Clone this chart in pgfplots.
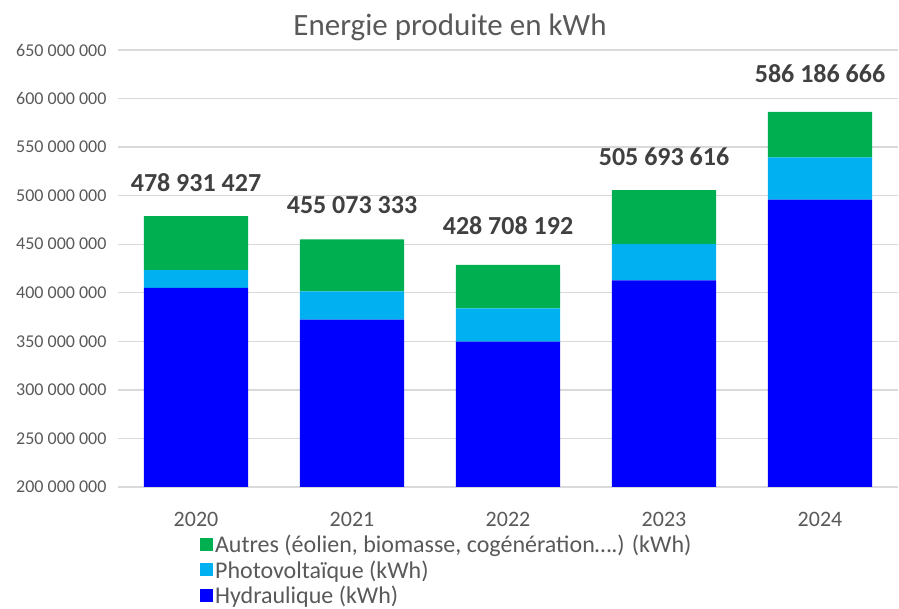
\documentclass[border=0pt]{standalone}
\usepackage{pgfplots}
\pgfplotsset{compat=1.18}
\usepackage{fontspec}
\setmainfont{Carlito}
\definecolor{cgreen}{HTML}{00B050}
\definecolor{ccyan}{HTML}{00B0F0}
\definecolor{cblue}{HTML}{0000FF}
\definecolor{ctext}{HTML}{595959}
\definecolor{clabel}{HTML}{404040}
\definecolor{cgrid}{HTML}{D9D9D9}
\begin{document}
\begin{tikzpicture}
\useasboundingbox (0,0) rectangle (899pt,609pt);
\begin{axis}[
  at={(118pt,122pt)}, anchor=south west,
  scale only axis, width=780pt, height=437pt,
  ybar stacked, bar width=0.667,
  xmin=-0.5, xmax=4.5, ymin=200, ymax=650,
  xtick={0,1,2,3,4}, xticklabels={2020,2021,2022,2023,2024},
  ytick={200,250,300,350,400,450,500,550,600,650},
  yticklabels={200 000 000,250 000 000,300 000 000,350 000 000,400 000 000,450 000 000,500 000 000,550 000 000,600 000 000,650 000 000},
  axis line style={draw=none},
  major tick length=0pt,
  ymajorgrids, grid style={cgrid, line width=1.3pt},
  yticklabel style={font=\fontsize{18}{20}\selectfont, text=ctext, anchor=east, xshift=-8pt},
  xticklabel style={font=\fontsize{22}{24}\selectfont, text=ctext, anchor=north, yshift=-22pt},
  reverse legend,
  legend style={at={(0.105,-0.105)}, anchor=north west, draw=none, fill=none,
    font=\fontsize{24}{26}\selectfont, text=ctext, row sep=2.5pt, inner sep=0pt},
  legend cell align=left,
  legend image code/.code={\fill[#1] (0pt,-6pt) rectangle (13pt,7pt);},
]
\addplot[fill=cblue, draw=none] coordinates {(0,405.1) (1,372.3) (2,349.6) (3,412.8) (4,495.9)};
\addlegendentry{Hydraulique (kWh)}
\addplot[fill=ccyan, draw=none] coordinates {(0,18.2) (1,29.1) (2,34.3) (3,37.3) (4,43.4)};
\addlegendentry{Photovoltaïque (kWh)}
\addplot[fill=cgreen, draw=none,
  point meta=explicit symbolic,
  nodes near coords,
  nodes near coords style={font=\bfseries\fontsize{26}{28}\selectfont, text=clabel, anchor=base, inner sep=0pt, yshift=52pt}
] coordinates {(0,55.631)[478 931 427] (1,53.673)[455 073 333] (2,44.808)[428 708 192] (3,55.594)[505 693 616] (4,46.887)[586 186 666]};
\addlegendentry{Autres (éolien, biomasse, cogénération….) (kWh)}
\end{axis}
\node[font=\fontsize{31}{33}\selectfont, text=ctext] at (450pt,582pt) {Energie produite en kWh};
\end{tikzpicture}
\end{document}
